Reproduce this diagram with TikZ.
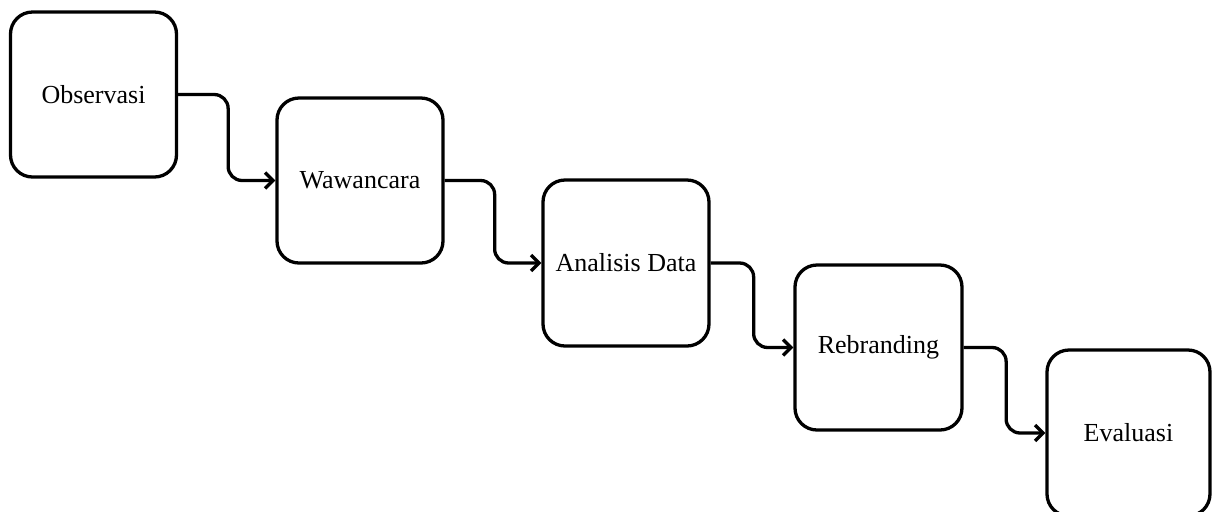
\documentclass[tikz,border=0pt]{standalone}
\usepackage{fontspec}
\setmainfont{Liberation Serif}
\usetikzlibrary{arrows.meta}

\tikzset{
	stepbox/.style={draw, line width=1.65pt, rounded corners=11pt, inner sep=0pt,
		font=\fontsize{13}{15}\selectfont},
	flow/.style={line width=1.65pt, rounded corners=7pt, -{Straight Barb[length=4pt,width=8pt]}}
}

\begin{document}
\begin{tikzpicture}[x=0.5pt, y=-0.5pt]
	\useasboundingbox (0,0) rectangle (1212,511);
	\node[stepbox, minimum width=83pt, minimum height=82.5pt] (obs) at (93.5,94.5) {Observasi};
	\node[stepbox, minimum width=83pt, minimum height=82.5pt] (waw) at (360,180.5) {Wawancara};
	\node[stepbox, minimum width=83pt, minimum height=83pt] (ana) at (626,263) {Analisis Data};
	\node[stepbox, minimum width=83.5pt, minimum height=82.5pt] (reb) at (878.5,347.5) {Rebranding};
	\node[stepbox, minimum width=81.5pt, minimum height=83pt] (eva) at (1128.5,433) {Evaluasi};
	\draw[flow] (obs.east) -- ++(50,0) |- (waw.west);
	\draw[flow] (waw.east) -- ++(50,0) |- (ana.west);
	\draw[flow] (ana.east) -- ++(43,0) |- (reb.west);
	\draw[flow] (reb.east) -- ++(42.5,0) |- (eva.west);
\end{tikzpicture}
\end{document}
